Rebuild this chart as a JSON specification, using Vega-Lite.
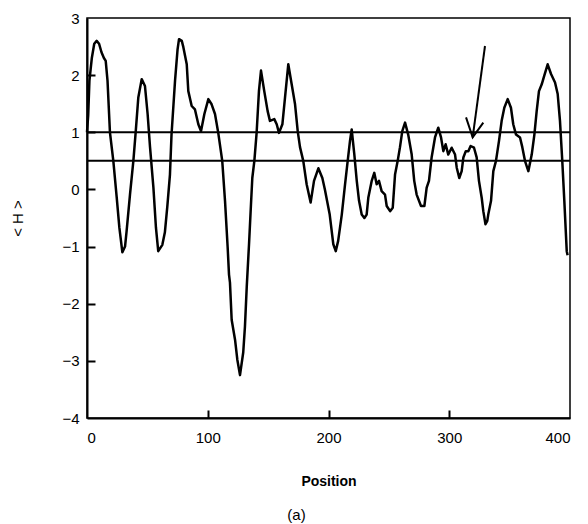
{
  "$schema": "https://vega.github.io/schema/vega-lite/v6.json",
  "width": 483,
  "height": 400,
  "autosize": "none",
  "padding": {"left": 87, "top": 18, "right": 18, "bottom": 106},
  "background": "white",
  "config": {
    "view": {"stroke": "black", "strokeWidth": 1.5},
    "font": "Liberation Sans",
    "axis": {"grid": false, "domainColor": "black", "domainWidth": 2, "tickColor": "black", "tickWidth": 2, "labelColor": "black", "titleColor": "black", "labelFont": "Liberation Sans", "titleFont": "Liberation Sans"}
  },
  "title": {"text": "(a)", "orient": "bottom", "anchor": "middle", "dx": -32, "offset": 20, "fontSize": 15, "fontWeight": "normal", "font": "Liberation Sans", "color": "black"},
  "resolve": {"axis": {"x": "independent", "y": "independent"}},
  "datasets": {
    "curve": [
      {"pos": 0, "H": 1.0}, {"pos": 1, "H": 1.3}, {"pos": 2, "H": 1.9}, {"pos": 3, "H": 2.1}, {"pos": 4, "H": 2.3},
      {"pos": 6, "H": 2.55}, {"pos": 8, "H": 2.6}, {"pos": 10, "H": 2.55}, {"pos": 12, "H": 2.4}, {"pos": 14, "H": 2.3},
      {"pos": 15.5, "H": 2.25}, {"pos": 17, "H": 1.9}, {"pos": 19, "H": 1.0}, {"pos": 21.8, "H": 0.5}, {"pos": 24.6, "H": -0.14},
      {"pos": 26.8, "H": -0.67}, {"pos": 29.3, "H": -1.1}, {"pos": 31.5, "H": -1.0}, {"pos": 32.8, "H": -0.73}, {"pos": 35.6, "H": -0.09},
      {"pos": 38.4, "H": 0.5}, {"pos": 40.3, "H": 1.0}, {"pos": 42.5, "H": 1.61}, {"pos": 45.3, "H": 1.93}, {"pos": 48, "H": 1.81},
      {"pos": 50.2, "H": 1.32}, {"pos": 52.2, "H": 0.74}, {"pos": 55, "H": 0.03}, {"pos": 57.1, "H": -0.67}, {"pos": 59, "H": -1.08},
      {"pos": 62.4, "H": -0.97}, {"pos": 64.5, "H": -0.75}, {"pos": 66.5, "H": -0.3}, {"pos": 68.7, "H": 0.26}, {"pos": 70, "H": 0.96},
      {"pos": 72.9, "H": 1.9}, {"pos": 75, "H": 2.45}, {"pos": 76.2, "H": 2.63}, {"pos": 78.5, "H": 2.6}, {"pos": 79.8, "H": 2.49},
      {"pos": 82.6, "H": 2.19}, {"pos": 83.9, "H": 1.72}, {"pos": 86.7, "H": 1.46}, {"pos": 89.4, "H": 1.4}, {"pos": 92.2, "H": 1.14},
      {"pos": 94.4, "H": 1.02}, {"pos": 97.2, "H": 1.32}, {"pos": 100.5, "H": 1.58}, {"pos": 103.2, "H": 1.49}, {"pos": 106, "H": 1.32},
      {"pos": 108.7, "H": 0.99}, {"pos": 112, "H": 0.5}, {"pos": 114.3, "H": -0.2}, {"pos": 116.5, "H": -1.02}, {"pos": 117.6, "H": -1.49},
      {"pos": 118.4, "H": -1.63}, {"pos": 119.8, "H": -2.28}, {"pos": 122.6, "H": -2.63}, {"pos": 124.5, "H": -2.98}, {"pos": 126.7, "H": -3.25},
      {"pos": 129.4, "H": -2.85}, {"pos": 130.8, "H": -2.4}, {"pos": 132.3, "H": -1.7}, {"pos": 134.2, "H": -0.95}, {"pos": 135.8, "H": -0.26},
      {"pos": 136.9, "H": 0.2}, {"pos": 138.6, "H": 0.5}, {"pos": 140.5, "H": 1.0}, {"pos": 142.4, "H": 1.72}, {"pos": 144.1, "H": 2.08},
      {"pos": 146.8, "H": 1.72}, {"pos": 149.6, "H": 1.37}, {"pos": 151.5, "H": 1.2}, {"pos": 155.1, "H": 1.23}, {"pos": 157.1, "H": 1.14},
      {"pos": 159, "H": 0.99}, {"pos": 161.8, "H": 1.14}, {"pos": 164, "H": 1.61}, {"pos": 166.7, "H": 2.19}, {"pos": 169.5, "H": 1.84},
      {"pos": 172.3, "H": 1.49}, {"pos": 174.5, "H": 1.02}, {"pos": 176.4, "H": 0.74}, {"pos": 179.1, "H": 0.5}, {"pos": 181.9, "H": 0.09},
      {"pos": 185.2, "H": -0.23}, {"pos": 188, "H": 0.15}, {"pos": 191.6, "H": 0.37}, {"pos": 194.9, "H": 0.2}, {"pos": 197, "H": 0.0},
      {"pos": 201, "H": -0.44}, {"pos": 204, "H": -0.96}, {"pos": 206, "H": -1.08}, {"pos": 208, "H": -0.9}, {"pos": 211, "H": -0.44},
      {"pos": 213.7, "H": 0.09}, {"pos": 215.9, "H": 0.5}, {"pos": 217.8, "H": 0.85}, {"pos": 219.2, "H": 1.05}, {"pos": 221.4, "H": 0.61},
      {"pos": 223.4, "H": 0.15}, {"pos": 225.3, "H": -0.2}, {"pos": 227.5, "H": -0.44}, {"pos": 229.7, "H": -0.5}, {"pos": 231.6, "H": -0.44},
      {"pos": 233, "H": -0.14}, {"pos": 235.8, "H": 0.15}, {"pos": 237.9, "H": 0.29}, {"pos": 239.9, "H": 0.09}, {"pos": 241.8, "H": 0.15},
      {"pos": 244, "H": -0.03}, {"pos": 246.8, "H": -0.09}, {"pos": 248.2, "H": -0.29}, {"pos": 251, "H": -0.38}, {"pos": 253.2, "H": -0.32},
      {"pos": 255.1, "H": 0.26}, {"pos": 257.3, "H": 0.5}, {"pos": 259.2, "H": 0.74}, {"pos": 261.1, "H": 1.02}, {"pos": 263.4, "H": 1.17},
      {"pos": 266, "H": 0.96}, {"pos": 268.9, "H": 0.61}, {"pos": 271, "H": 0.15}, {"pos": 273, "H": -0.09}, {"pos": 276.6, "H": -0.29},
      {"pos": 279.4, "H": -0.29}, {"pos": 281.3, "H": 0.03}, {"pos": 283.2, "H": 0.15}, {"pos": 285.4, "H": 0.56}, {"pos": 288.2, "H": 0.91},
      {"pos": 290.9, "H": 1.08}, {"pos": 293.2, "H": 0.91}, {"pos": 295.1, "H": 0.67}, {"pos": 297, "H": 0.79}, {"pos": 299.2, "H": 0.61},
      {"pos": 302, "H": 0.73}, {"pos": 304.8, "H": 0.61}, {"pos": 306.2, "H": 0.38}, {"pos": 308.3, "H": 0.2}, {"pos": 310.3, "H": 0.32},
      {"pos": 311.7, "H": 0.56}, {"pos": 313.7, "H": 0.67}, {"pos": 315.8, "H": 0.67}, {"pos": 317.7, "H": 0.76}, {"pos": 320.5, "H": 0.73},
      {"pos": 322.7, "H": 0.56}, {"pos": 324.6, "H": 0.15}, {"pos": 326.9, "H": -0.15}, {"pos": 328.2, "H": -0.38}, {"pos": 330, "H": -0.61},
      {"pos": 331.5, "H": -0.55}, {"pos": 332.3, "H": -0.44}, {"pos": 334.6, "H": -0.2}, {"pos": 336.5, "H": 0.32}, {"pos": 338.7, "H": 0.5},
      {"pos": 341.2, "H": 0.85}, {"pos": 343.4, "H": 1.2}, {"pos": 345.6, "H": 1.43}, {"pos": 348.4, "H": 1.58}, {"pos": 351.1, "H": 1.43},
      {"pos": 353, "H": 1.14}, {"pos": 355.3, "H": 0.96}, {"pos": 358.6, "H": 0.91}, {"pos": 360.5, "H": 0.74}, {"pos": 362.7, "H": 0.5},
      {"pos": 365.5, "H": 0.32}, {"pos": 368.3, "H": 0.61}, {"pos": 370.5, "H": 0.96}, {"pos": 372.4, "H": 1.37}, {"pos": 374.3, "H": 1.72},
      {"pos": 376.6, "H": 1.84}, {"pos": 378.7, "H": 1.99}, {"pos": 381.5, "H": 2.19}, {"pos": 384.3, "H": 2.02}, {"pos": 387.6, "H": 1.87},
      {"pos": 389.8, "H": 1.67}, {"pos": 391.7, "H": 1.2}, {"pos": 393.6, "H": 0.5}, {"pos": 395.3, "H": -0.2}, {"pos": 397.3, "H": -1.08},
      {"pos": 398, "H": -1.15}
    ],
    "refs": [{"level": 1}, {"level": 0.5}],
    "arrow": [
      {"seg": "shaft", "k": 0, "pos": 329.6, "H": 2.51},
      {"seg": "shaft", "k": 1, "pos": 319.4, "H": 0.91},
      {"seg": "head", "k": 0, "pos": 313.9, "H": 1.26},
      {"seg": "head", "k": 1, "pos": 319.4, "H": 0.91},
      {"seg": "head", "k": 2, "pos": 328.2, "H": 1.17}
    ]
  },
  "layer": [
    {
      "data": {"name": "refs"},
      "mark": {"type": "rule", "color": "black", "strokeWidth": 2},
      "encoding": {
        "y": {"field": "level", "type": "quantitative", "scale": {"domain": [-4, 3], "nice": false},
          "axis": {"orient": "right", "offset": -483, "values": [-3, -2, -1, 0, 1, 2], "tickSize": 8, "labels": false, "domain": false, "title": null}}
      }
    },
    {
      "data": {"name": "curve"},
      "mark": {"type": "line", "color": "black", "strokeWidth": 2.5, "strokeJoin": "round"},
      "encoding": {
        "x": {"field": "pos", "type": "quantitative", "scale": {"domain": [0, 400], "nice": false},
          "axis": {"orient": "bottom", "values": [0, 100, 200, 300, 400], "ticks": false, "labelPadding": 12, "labelFontSize": 15, "title": "Position", "titleFontSize": 14, "titleFontWeight": "bold", "titlePadding": 29}},
        "y": {"field": "H", "type": "quantitative", "scale": {"domain": [-4, 3], "nice": false},
          "axis": {"orient": "left", "values": [-4, -3, -2, -1, 0, 1, 2, 3], "format": "d", "ticks": false, "labelPadding": 8, "labelFontSize": 15, "title": "< H >", "titleFontSize": 15, "titleFontWeight": "normal", "titlePadding": 36}}
      }
    },
    {
      "data": {"name": "arrow"},
      "mark": {"type": "line", "color": "black", "strokeWidth": 2},
      "encoding": {
        "x": {"field": "pos", "type": "quantitative",
          "axis": {"orient": "top", "offset": -400, "values": [100, 200, 300], "tickSize": 8, "labels": false, "domain": false, "title": null}},
        "y": {"field": "H", "type": "quantitative", "axis": null},
        "detail": {"field": "seg"},
        "order": {"field": "k"}
      }
    }
  ]
}
